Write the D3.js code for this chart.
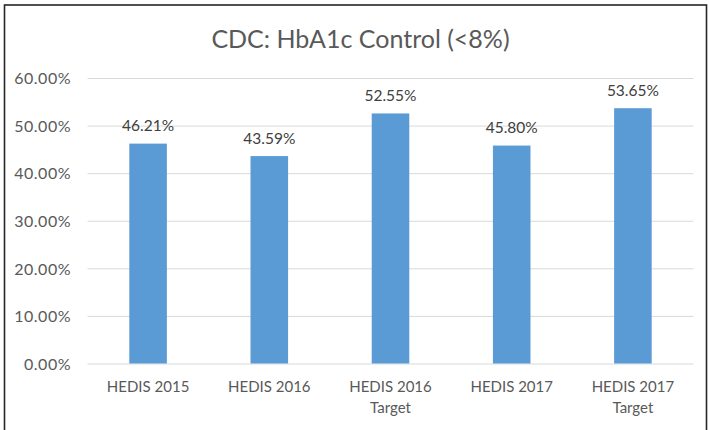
<!DOCTYPE html>
<html>
<head>
<meta charset="utf-8">
<script src="https://cdn.jsdelivr.net/npm/d3@7/dist/d3.min.js"></script>
<style>
  html, body { margin: 0; padding: 0; background: #fff; }
  svg { display: block; }
  text { font-family: Lato, "Open Sans", sans-serif; }
</style>
</head>
<body>
<svg id="chart" width="709" height="430"></svg>
<script>
const title = "CDC: HbA1c Control (<8%)";
const categories = ["HEDIS 2015", "HEDIS 2016", "HEDIS 2016\nTarget", "HEDIS 2017", "HEDIS 2017\nTarget"];
const values = [0.4621, 0.4359, 0.5255, 0.4580, 0.5365];
const yTicks = [0, 0.1, 0.2, 0.3, 0.4, 0.5, 0.6];

const W = 709, H = 430;
const margin = { left: 87.5, right: 709 - 693.5, top: 78, bottom: 430 - 363.5 };
const svg = d3.select("#chart");

// border
svg.append("rect")
  .attr("x", 4.5).attr("y", 5).attr("width", 702).attr("height", 440)
  .attr("fill", "#fff").attr("stroke", "#262626").attr("stroke-width", 1.6);

const x = d3.scaleBand().domain(categories).range([margin.left, W - margin.right]).padding(0);
const y = d3.scaleLinear().domain([0, 0.6]).range([H - margin.bottom, margin.top]);

// gridlines + tick labels
const yAxis = d3.axisLeft(y).tickValues(yTicks).tickFormat(d3.format(".2%"))
  .tickSize(-(W - margin.left - margin.right)).tickPadding(16.5);
const gy = svg.append("g").attr("transform", `translate(${margin.left},0)`).call(yAxis);
gy.select(".domain").remove();
gy.selectAll(".tick line").attr("stroke", "#D9D9D9").attr("stroke-width", 1);
gy.selectAll(".tick text").attr("fill", "#595959").style("font-size", "16px")
  .attr("font-family", null).attr("dy", "0.36em")
  .attr("letter-spacing", "0.5px");

// bars
const barW = x.bandwidth() * 0.31;
svg.append("g").selectAll("rect").data(values).join("rect")
  .attr("x", (d, i) => x(categories[i]) + x.bandwidth() / 2 - barW / 2)
  .attr("width", barW)
  .attr("y", d => y(d))
  .attr("height", d => y(0) - y(d))
  .attr("fill", "#5B9BD5");

// data labels
svg.append("g").selectAll("text").data(values).join("text")
  .attr("x", (d, i) => x(categories[i]) + x.bandwidth() / 2)
  .attr("y", d => y(d) - 12.5)
  .attr("text-anchor", "middle")
  .attr("fill", "#404040")
  .style("font-size", "15.5px")
  .text(d => d3.format(".2%")(d));

// category labels
const cat = svg.append("g").selectAll("text").data(categories).join("text")
  .attr("x", d => x(d) + x.bandwidth() / 2)
  .attr("y", 391.5)
  .attr("text-anchor", "middle")
  .attr("fill", "#595959")
  .style("font-size", "15px");
cat.each(function(d) {
  const t = d3.select(this);
  d.split("\n").forEach((line, j) => {
    t.append("tspan").attr("x", x(d) + x.bandwidth() / 2).attr("dy", j === 0 ? 0 : 21.5).text(line);
  });
});

// title
svg.append("text")
  .attr("x", 360.5).attr("y", 47.5)
  .attr("text-anchor", "middle")
  .attr("fill", "#595959")
  .style("font-size", "25px")
  .text(title);
</script>
</body>
</html>
